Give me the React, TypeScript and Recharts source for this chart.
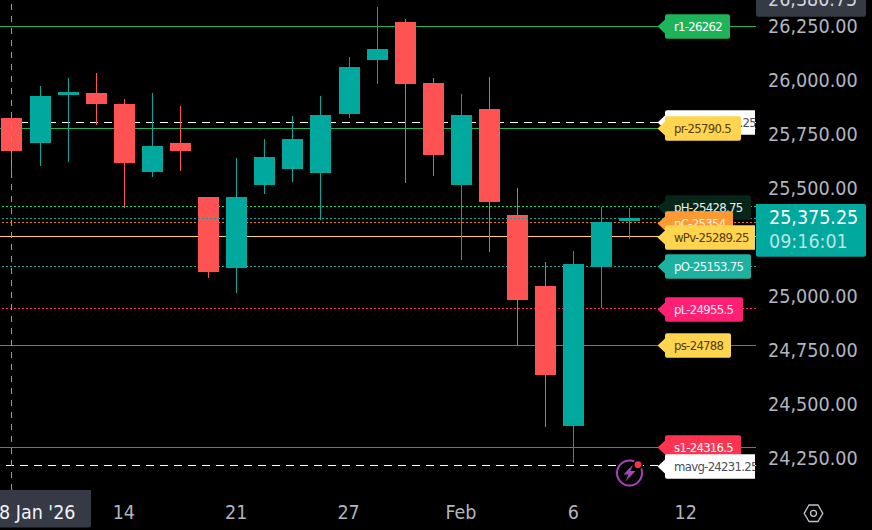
import { ComposedChart, Bar, Cell, XAxis, YAxis, ReferenceLine } from 'recharts'

const WIDTH = 872
const HEIGHT = 530
const FONT = '"DejaVu Sans Condensed", "DejaVu Sans", sans-serif'

const UP = '#00A89E'
const DOWN = '#FF5252'

// daily candles, left to right
const opens = [25838, 25722.5, 25944.5, 25953.5, 25903, 25588.5, 25722.5, 25473, 25144.5, 25528, 25602, 25584, 25856.5, 26106, 26282, 26000, 25528, 25880, 25390, 25061, 24414, 25149, 25362]
const closes = [25685.5, 25940, 25958, 25903, 25630, 25708.5, 25685.5, 25126, 25473, 25658, 25741, 25852, 26074, 26157, 25995, 25667, 25852, 25450, 24997, 24650, 25163, 25357, 25375.25]
const highs = [25866, 25986, 26023, 26046, 25926, 25953.5, 25893.5, 25473, 25653, 25741, 25847, 25940, 26120, 26351, 26296, 26023, 25949, 26028, 25514.5, 25172, 25223, 25427, 25422]
const lows = [25570, 25616, 25634.5, 25805.5, 25422, 25565, 25593, 25098.5, 25029, 25487, 25542, 25366.5, 25838, 25995, 25537.5, 25570, 25182, 25219, 24789, 24410, 24243, 24960, 25279]

const xTickIndex = [0, 4, 8, 12, 16, 20, 24]
const xTickLabels = ["8 Jan '26", '14', '21', '27', 'Feb', '6', '12']
const priceTicks = [24250, 24500, 24750, 25000, 25250, 25500, 25750, 26000, 26250]
const hiddenPriceTicks = [25250]

const levelNames = ['r1', 'wavg', 'pr', 'pH', 'pC', 'wPv', 'pO', 'pL', 'ps', 's1', 'mavg']
const levelValues = ['26262', '25818.25', '25790.5', '25428.75', '25354', '25289.25', '25153.75', '24955.5', '24788', '24316.5', '24231.25']

const lastPrice = 25375.25
const lastPriceText = '25,375.25'
const countdownText = '09:16:01'
const crosshairPriceText = '26,380.75'

const LEVEL_STYLES: Record<string, { line: string; dash?: string; fill: string; text: string; width: number }> = {
  r1: { line: '#1DB45A', fill: '#1DB45A', text: '#FFFFFF', width: 65 },
  wavg: { line: '#FFFFFF', dash: '8 6', fill: '#FFFFFF', text: '#4A4F5C', width: 90 },
  pr: { line: '#1DB45A', fill: '#FFD54F', text: '#5A3A0A', width: 76 },
  pH: { line: '#00E676', dash: '2 2', fill: '#07261A', text: '#E8F2EC', width: 86 },
  pC: { line: '#F57C00', dash: '2 2', fill: '#FF9A33', text: '#FFF3E0', width: 68 },
  wPv: { line: '#FFD54F', fill: '#FFD54F', text: '#5A3A0A', width: 90 },
  pO: { line: '#1DB1A0', dash: '2 2', fill: '#1DB1A0', text: '#E8FFFB', width: 86 },
  pL: { line: '#FF1F73', dash: '2 2', fill: '#FF1F73', text: '#FFE6EF', width: 78 },
  ps: { line: '#DC4656', fill: '#FFD54F', text: '#5A3A0A', width: 66 },
  s1: { line: '#DC4656', fill: '#FF3350', text: '#FFFFFF', width: 76 },
  mavg: { line: '#FFFFFF', dash: '8 6', fill: '#FFFFFF', text: '#4A4F5C', width: 90 },
}

const candles = opens.map((open, i) => ({
  i,
  body: [Math.min(open, closes[i]), Math.max(open, closes[i])],
  wick: [lows[i], highs[i]],
  up: closes[i] >= open,
}))

const X_DOMAIN: [number, number] = [-0.4094, 26.504]
const Y_DOMAIN: [number, number] = [24118, 26384]

function PriceTick({ y, payload }: any) {
  if (hiddenPriceTicks.includes(payload.value)) return null
  const text = payload.value.toLocaleString('en-US', { minimumFractionDigits: 2 })
  return (
    <text x={768} y={y - 3 + 7} fill="#B2B5BE" fontFamily={FONT} fontSize={19.6}>
      {text}
    </text>
  )
}

function DateTick({ x, payload }: any) {
  const label = xTickLabels[xTickIndex.indexOf(payload.value)]
  if (payload.value === 0) {
    return (
      <g>
        <path d="M0 490 H91 V525 Q91 527.5 88.5 527.5 H0 Z" fill="#363A45" />
        <text x={-1} y={519} fill="#F0F3FA" fontFamily={FONT} fontSize={19.5}>
          {label}
        </text>
      </g>
    )
  }
  return (
    <text x={x} y={519} textAnchor="middle" fill="#B2B5BE" fontFamily={FONT} fontSize={19.5}>
      {label}
    </text>
  )
}

function LevelTag({ viewBox, name, value }: any) {
  const st = LEVEL_STYLES[name]
  const y = Math.round(viewBox.y) + 0.5
  const right = 665 + st.width
  const r = right >= 755 ? 0 : 2
  const d = `M657.5 ${y} L665 ${y - 7} V${y - 10.3} Q665 ${y - 12.3} 667 ${y - 12.3} H${right - r} Q${right} ${y - 12.3} ${right} ${y - 12.3 + r} V${y + 12.3 - r} Q${right} ${y + 12.3} ${right - r} ${y + 12.3} H667 Q665 ${y + 12.3} 665 ${y + 10.3} V${y + 7} Z`
  return (
    <svg x={0} y={0} width={755} height={HEIGHT}>
      <path d={d} fill={st.fill} />
      <text x={674} y={y + 4.8} fill={st.text} fontFamily={FONT} fontSize={13} letterSpacing={-0.7}>
        {`${name}-${value}`}
      </text>
    </svg>
  )
}

function Overlay() {
  return (
    <svg width={WIDTH} height={HEIGHT} style={{ position: 'absolute', left: 0, top: 0, pointerEvents: 'none' }}>
      <path d="M756 0 H866 V14.5 Q866 16.7 863.8 16.7 H758 Q756 16.7 756 14.5 Z" fill="#363A45" />
      <text x={768} y={6} fill="#D1D4DC" fontFamily={FONT} fontSize={19.5}>
        {crosshairPriceText}
      </text>

      <path d="M756 204 H864 Q866 204 866 206 V254.7 Q866 256.7 864 256.7 H758 Q756 256.7 756 254.7 Z" fill={UP} />
      <text x={769} y={223.5} fill="#FFFFFF" fontFamily={FONT} fontSize={19.5}>
        {lastPriceText}
      </text>
      <text x={769} y={247.5} fill="#FFFFFF" fillOpacity={0.72} fontFamily={FONT} fontSize={19.5}>
        {countdownText}
      </text>

      <circle cx={629.5} cy={473} r={14.5} fill="#000000" />
      <circle cx={629.5} cy={473} r={12.5} fill="none" stroke="#A945B8" strokeWidth={2} />
      <path d="M633 464.5 L623.5 474.5 H628.5 L625.5 481.5 L635.5 471 H630.5 Z" fill="#A945B8" />
      <circle cx={638} cy={464.7} r={5} fill="#000000" />
      <circle cx={638} cy={464.7} r={3.4} fill="#F23645" />

      <path
        d="M809 505 H818 L822.8 513.3 L818 521.5 H809 L804.2 513.3 Z"
        fill="none"
        stroke="#C0C3CC"
        strokeWidth={1.3}
      />
      <circle cx={813.5} cy={513.3} r={3} fill="none" stroke="#C0C3CC" strokeWidth={1.3} />
    </svg>
  )
}

export default function App() {
  return (
    <div style={{ position: 'absolute', left: 0, top: 0, width: WIDTH, height: HEIGHT, background: '#000', overflow: 'hidden' }}>
      <ComposedChart
        width={WIDTH}
        height={HEIGHT}
        data={candles}
        margin={{ top: 0, right: 0, bottom: 0, left: 0 }}
      >
        <XAxis
          type="number"
          dataKey="i"
          domain={X_DOMAIN}
          allowDataOverflow
          ticks={xTickIndex}
          interval={0}
          height={40}
          axisLine={false}
          tickLine={false}
          tick={<DateTick />}
        />
        <XAxis xAxisId="wick" type="number" dataKey="i" domain={X_DOMAIN} allowDataOverflow ticks={xTickIndex} hide />
        <YAxis
          orientation="right"
          width={116}
          domain={Y_DOMAIN}
          allowDataOverflow
          ticks={priceTicks}
          interval={0}
          axisLine={false}
          tickLine={false}
          tick={<PriceTick />}
        />

        {levelNames.map((name, k) => {
          const st = LEVEL_STYLES[name]
          return (
            <ReferenceLine
              key={name}
              y={Number(levelValues[k])}
              stroke={st.line}
              strokeWidth={1}
              strokeDasharray={st.dash}
              shapeRendering="crispEdges"
              zIndex={50}
            />
          )
        })}

        <Bar xAxisId="wick" dataKey="wick" barSize={1} isAnimationActive={false} shapeRendering="crispEdges" zIndex={100}>
          {candles.map((c) => (
            <Cell key={c.i} fill={c.up ? UP : DOWN} />
          ))}
        </Bar>
        <Bar dataKey="body" barSize={21} isAnimationActive={false} shapeRendering="crispEdges" zIndex={150}>
          {candles.map((c) => (
            <Cell key={c.i} fill={c.up ? UP : DOWN} />
          ))}
        </Bar>

        <ReferenceLine y={lastPrice} stroke={UP} strokeDasharray="2 2" shapeRendering="crispEdges" zIndex={200} />
        <ReferenceLine x={0} stroke="#9598A1" strokeDasharray="6 6" strokeWidth={1} shapeRendering="crispEdges" zIndex={200} />

        {levelNames.map((name, k) => (
          <ReferenceLine
            key={`tag-${name}`}
            y={Number(levelValues[k])}
            stroke="none"
            zIndex={300}
            label={(props: any) => <LevelTag {...props} name={name} value={levelValues[k]} />}
          />
        ))}
      </ComposedChart>
      <Overlay />
    </div>
  )
}
